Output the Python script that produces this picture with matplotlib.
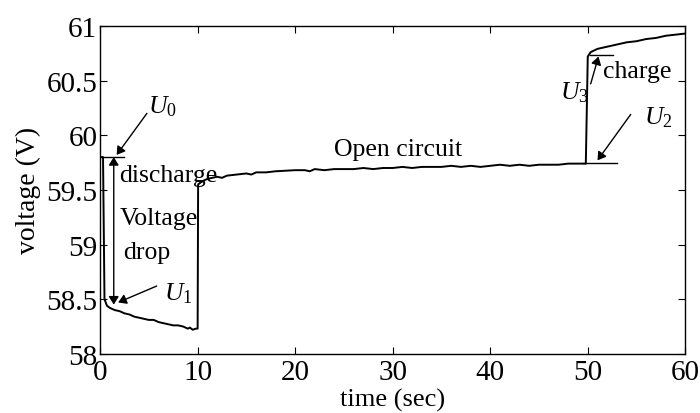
import matplotlib
matplotlib.use("Agg")
import numpy as np
from matplotlib import pyplot as plt

plt.rcParams["font.family"] = ["Liberation Serif", "DejaVu Serif"]
plt.rcParams["mathtext.fontset"] = "custom"
plt.rcParams["mathtext.rm"] = "Liberation Serif"
plt.rcParams["mathtext.it"] = "Liberation Serif:italic"

time_s = [
    0.2, 0.3, 0.45, 0.7, 1.0, 1.5, 2.0, 2.5, 3.0, 3.5, 4.0, 4.5, 5.0, 5.5,
    6.0, 6.5, 7.0, 7.5, 8.0, 8.5, 9.0, 9.2, 9.5, 9.8, 10.0,
    10.05, 10.5, 11.0, 12.0, 12.5, 13.0, 14.0, 15.0, 15.5, 16.0, 17.0, 18.0,
    20.0, 21.0, 21.5, 22.0, 23.0, 24.0, 25.0, 26.0, 27.0, 28.0, 29.0, 30.0,
    31.0, 32.0, 33.0, 34.0, 35.0, 36.0, 37.0, 38.0, 39.0, 40.0, 41.0, 42.0,
    43.0, 44.0, 45.0, 46.0, 47.0, 48.0, 49.0, 49.8,
    50.0, 50.3, 51.0, 52.0, 53.0, 54.0, 55.0, 56.0, 57.0, 58.0, 59.0, 60.0,
]
voltage = [
    59.80, 59.80, 58.50, 58.44, 58.42, 58.40, 58.39, 58.37, 58.36, 58.34,
    58.33, 58.32, 58.31, 58.31, 58.29, 58.28, 58.27, 58.26, 58.26, 58.25,
    58.23, 58.24, 58.22, 58.23, 58.23,
    59.55, 59.58, 59.60, 59.62, 59.61, 59.63, 59.64, 59.65, 59.64, 59.66,
    59.66, 59.67, 59.68, 59.68, 59.67, 59.69, 59.68, 59.69, 59.69, 59.69,
    59.70, 59.69, 59.70, 59.70, 59.71, 59.70, 59.71, 59.71, 59.71, 59.72,
    59.71, 59.72, 59.71, 59.72, 59.73, 59.72, 59.73, 59.72, 59.73, 59.73,
    59.73, 59.74, 59.74, 59.74,
    60.72, 60.76, 60.79, 60.81, 60.83, 60.85, 60.86, 60.88, 60.89, 60.91,
    60.92, 60.93,
]

x_ticks = [0, 10, 20, 30, 40, 50, 60]
y_ticks = [58, 58.5, 59, 59.5, 60, 60.5, 61]
y_tick_labels = ["58", "58.5", "59", "59.5", "60", "60.5", "61"]


def main():
    fig = plt.figure(figsize=(7, 4.14), dpi=100)
    ax = fig.add_axes([0.143, 0.143, 0.836, 0.792])

    ax.plot(time_s, voltage, color="k", linewidth=1.4)

    # marker lines for U0, U2, U3
    ax.plot([0, 2.5], [59.8, 59.8], color="k", linewidth=1.0)
    ax.plot([49.5, 53.0], [59.75, 59.75], color="k", linewidth=1.0)
    ax.plot([50.2, 52.6], [60.73, 60.73], color="k", linewidth=1.0)

    # voltage drop double arrow
    ax.annotate("", xy=(1.4, 58.45), xytext=(1.4, 59.8),
                arrowprops=dict(arrowstyle="<|-|>,head_width=0.25",
                                color="k", lw=1.0, mutation_scale=12,
                                shrinkA=0, shrinkB=0))

    arrow = dict(arrowstyle="-|>,head_width=0.25", color="k", lw=1.0,
                 mutation_scale=12, shrinkA=0, shrinkB=0)
    ax.annotate("", xy=(1.7, 59.82), xytext=(4.8, 60.2), arrowprops=arrow)
    ax.annotate("", xy=(1.85, 58.47), xytext=(5.8, 58.62), arrowprops=arrow)
    ax.annotate("", xy=(51.0, 59.77), xytext=(54.4, 60.19), arrowprops=arrow)
    ax.annotate("", xy=(51.1, 60.72), xytext=(50.3, 60.47), arrowprops=arrow)

    fs = 18.5
    ax.text(4.9, 60.27, r"$U_0$", fontsize=fs, va="center")
    ax.text(6.6, 58.56, r"$U_1$", fontsize=fs, va="center")
    ax.text(55.8, 60.17, r"$U_2$", fontsize=fs, va="center")
    ax.text(47.2, 60.4, r"$U_3$", fontsize=fs, va="center")
    ax.text(2.0, 59.64, "discharge", fontsize=fs, va="center")
    ax.text(2.0, 59.24, "Voltage", fontsize=fs, va="center")
    ax.text(2.4, 58.93, "drop", fontsize=fs, va="center")
    ax.text(30.5, 59.87, "Open circuit", fontsize=fs, ha="center", va="center")
    ax.text(51.6, 60.59, "charge", fontsize=fs, va="center")

    ax.set_xlim(0, 60)
    ax.set_ylim(58, 61)
    ax.set_xticks(x_ticks)
    ax.set_yticks(y_ticks)
    ax.set_yticklabels(y_tick_labels)
    ax.tick_params(axis="both", direction="in", top=True, right=True,
                   labelsize=21, length=5)
    ax.tick_params(axis="x", pad=4)
    ax.tick_params(axis="y", pad=2)
    ax.set_xlabel("time (sec)", fontsize=19, labelpad=2)
    ax.set_ylabel("voltage (V)", fontsize=20, labelpad=4)
    for sp in ax.spines.values():
        sp.set_linewidth(1.0)

    fig.savefig("out.png", dpi=100)
    plt.close()


if __name__ == "__main__":
    main()
